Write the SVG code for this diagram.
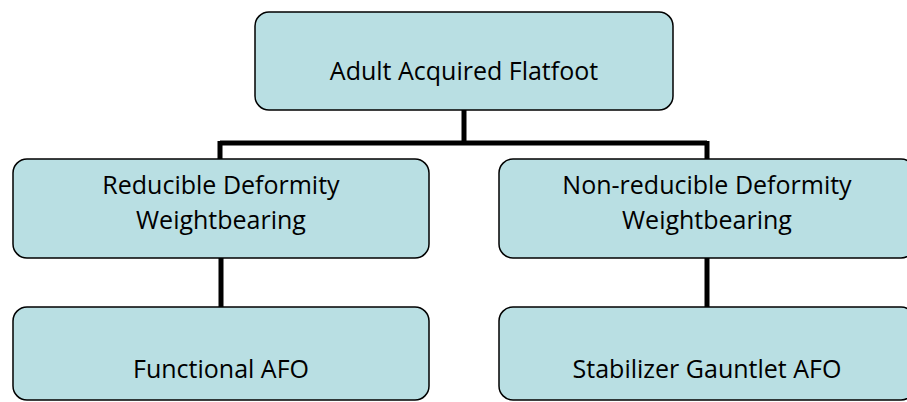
<svg xmlns="http://www.w3.org/2000/svg" width="907" height="402" viewBox="0 0 907 402">
<style>
.box{fill:#b9dfe3;stroke:#000;stroke-width:1.5}
.t{font-family:"Open Sans","Liberation Sans",sans-serif;font-size:25px;fill:#000;text-anchor:middle}
.c{stroke:#000;stroke-width:5;fill:none}
</style>
<rect width="907" height="402" fill="#fff"/>
<g id="connectors">
<path class="c" d="M464 110V143M220 143H707M220 141V159M707 141V159"/>
<path class="c" d="M221 258V307M707 258V307"/>
</g>
<g id="root">
<rect class="box" x="255" y="12" width="418" height="98" rx="14"/>
<text class="t" x="464" y="80">Adult Acquired Flatfoot</text>
</g>
<g id="reducible">
<rect class="box" x="13" y="159" width="416" height="99" rx="14"/>
<text class="t" x="221" y="194">Reducible Deformity</text>
<text class="t" x="221" y="229">Weightbearing</text>
</g>
<g id="nonreducible">
<rect class="box" x="499" y="159" width="416" height="99" rx="14"/>
<text class="t" x="707" y="194">Non-reducible Deformity</text>
<text class="t" x="707" y="229">Weightbearing</text>
</g>
<g id="functional">
<rect class="box" x="13" y="307" width="416" height="93" rx="14"/>
<text class="t" x="221" y="378">Functional AFO</text>
</g>
<g id="stabilizer">
<rect class="box" x="499" y="307" width="416" height="93" rx="14"/>
<text class="t" x="707" y="378">Stabilizer Gauntlet AFO</text>
</g>
</svg>
